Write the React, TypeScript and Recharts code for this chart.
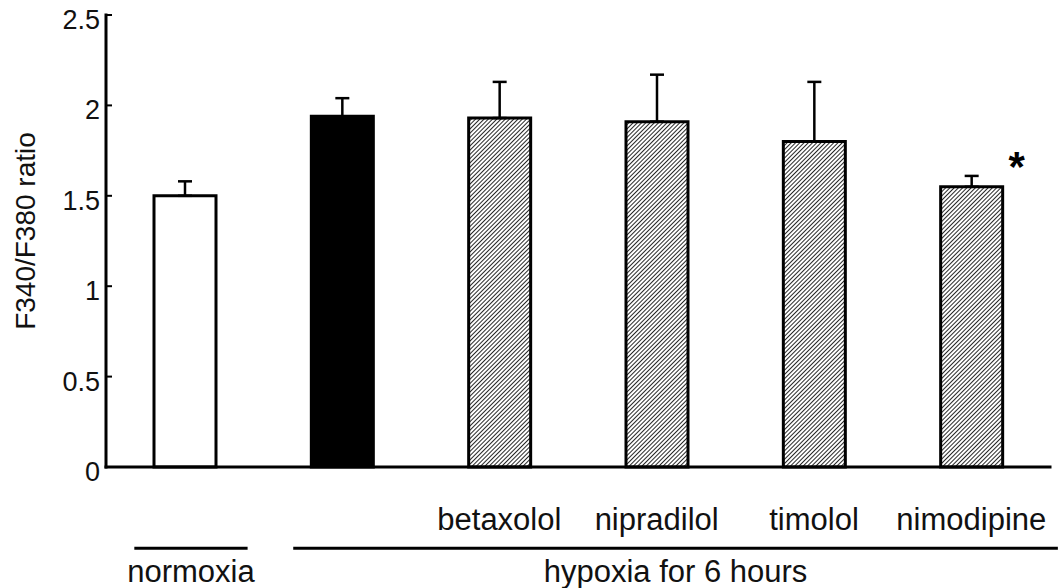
import React from 'react';
import { BarChart, Bar, XAxis, YAxis, ErrorBar, Cell, LabelList, ReferenceLine } from 'recharts';

// Intracellular Ca2+ (fura-2 ratio) after 6 h hypoxia with/without drugs
const conditions = ['normoxia', 'hypoxia', 'betaxolol', 'nipradilol', 'timolol', 'nimodipine'];
const treatmentLabels = ['', '', 'betaxolol', 'nipradilol', 'timolol', 'nimodipine'];
const ratioMeans = [1.5, 1.94, 1.93, 1.91, 1.8, 1.55];
const ratioSE = [0.08, 0.1, 0.2, 0.26, 0.33, 0.06];
const significance = ['', '', '', '', '', '*'];
const yTicks = [0, 0.5, 1, 1.5, 2, 2.5];
const groupNames = ['normoxia', 'hypoxia for 6 hours'];
const yTitle = 'F340/F380 ratio';

// layout / style constants
const FONT = '"Liberation Sans", Arial, Helvetica, sans-serif';
const TEXT = '#111';
const BAR_FILLS = ['#ffffff', '#000000', 'url(#diagHatch)', 'url(#diagHatch)', 'url(#diagHatch)', 'url(#diagHatch)'];
// bracket extents in band units on the hidden positional axis
const GROUP_SPANS: [number, number][] = [
  [0.18, 0.9],
  [1.19, 6.05],
];
const BRACKET_Y = -0.45;
const Y_TICK_GAP = 6;
const Y_TICK_LEN = 6;

const data = conditions.map((c, i) => ({
  condition: c,
  slot: i + 0.5,
  ratio: ratioMeans[i],
  err: [0, ratioSE[i]],
  sig: significance[i],
}));

// tick label plus a short inward tick mark on the right of the axis line
const YTick = (props: any) => {
  const { x, y, payload } = props;
  const axisX = x + Y_TICK_GAP;
  return (
    <g>
      <line x1={axisX} y1={y} x2={axisX + Y_TICK_LEN} y2={y} stroke="#000" strokeWidth={2} />
      <text x={x} y={y + 5} textAnchor="end" dominantBaseline="central" fontFamily={FONT} fontSize={27} fill={TEXT}>
        {String(payload.value)}
      </text>
    </g>
  );
};

const TreatmentTick = (props: any) => {
  const { x, y, payload } = props;
  const idx = conditions.indexOf(payload.value);
  const label = idx >= 0 ? treatmentLabels[idx] : '';
  if (!label) return null;
  return (
    <text x={x} y={y + 63} textAnchor="middle" fontFamily={FONT} fontSize={31} fill={TEXT}>
      {label}
    </text>
  );
};

const YTitle = (props: any) => {
  const vb = props.viewBox || {};
  const cx = (vb.x ?? 0) + 25;
  const cy = (vb.y ?? 0) + (vb.height ?? 0) / 2 - 10;
  return (
    <text
      x={cx}
      y={cy}
      transform={`rotate(-90 ${cx} ${cy})`}
      textAnchor="middle"
      dominantBaseline="central"
      fontFamily={FONT}
      fontSize={28}
      fill={TEXT}
    >
      {yTitle}
    </text>
  );
};

const StarLabel = (props: any) => {
  const { x, y, width, value } = props;
  if (!value) return null;
  return (
    <text x={x + width + 14} y={y - 6} textAnchor="middle" fontFamily={FONT} fontWeight="bold" fontSize={42} fill="#000">
      {value}
    </text>
  );
};

const groupLabel = (name: string) => (props: any) => {
  const vb = props.viewBox || {};
  const cx = (vb.x ?? 0) + (vb.width ?? 0) / 2;
  const y = (vb.y ?? 0) + 34;
  return (
    <text x={cx} y={y} textAnchor="middle" fontFamily={FONT} fontSize={31} fill={TEXT}>
      {name}
    </text>
  );
};

export default function App() {
  return (
    <div style={{ position: 'absolute', left: 0, top: 0, width: 1060, height: 588, background: '#fff' }}>
      <BarChart width={1060} height={588} data={data} margin={{ top: 15, right: 10, bottom: 91, left: 0 }}>
        <defs>
          <pattern id="diagHatch" patternUnits="userSpaceOnUse" width={3} height={3} patternTransform="rotate(45)">
            <rect x={0} y={0} width={3} height={3} fill="#fff" />
            <line x1={0} y1={0} x2={0} y2={3} stroke="#000" strokeWidth={1.7} />
          </pattern>
        </defs>
        <XAxis
          xAxisId="cat"
          dataKey="condition"
          height={30}
          interval={0}
          tickLine={false}
          tickSize={0}
          tickMargin={0}
          axisLine={{ stroke: '#000', strokeWidth: 3, strokeLinecap: 'square' }}
          tick={<TreatmentTick />}
        />
        <XAxis xAxisId="pos" dataKey="slot" type="number" domain={[0, 6]} allowDataOverflow hide />
        <YAxis
          width={106}
          domain={[0, 2.5]}
          ticks={yTicks}
          interval={0}
          tickSize={0}
          tickMargin={Y_TICK_GAP}
          tickLine={false}
          axisLine={{ stroke: '#000', strokeWidth: 3, strokeLinecap: 'square' }}
          tick={<YTick />}
          label={{ value: yTitle, content: YTitle }}
        />
        <Bar xAxisId="cat" dataKey="ratio" barSize={62} stroke="#000" strokeWidth={3} isAnimationActive={false}>
          {data.map((d, i) => (
            <Cell key={d.condition} fill={BAR_FILLS[i]} />
          ))}
          <ErrorBar dataKey="err" direction="y" width={7} stroke="#000" strokeWidth={2.5} isAnimationActive={false} />
          <LabelList dataKey="sig" content={StarLabel} />
        </Bar>
        {groupNames.map((name, i) => (
          <ReferenceLine
            key={name}
            xAxisId="pos"
            ifOverflow="visible"
            segment={[
              { x: GROUP_SPANS[i][0], y: BRACKET_Y },
              { x: GROUP_SPANS[i][1], y: BRACKET_Y },
            ]}
            stroke="#000"
            strokeWidth={3}
            label={groupLabel(name)}
          />
        ))}
      </BarChart>
    </div>
  );
}
